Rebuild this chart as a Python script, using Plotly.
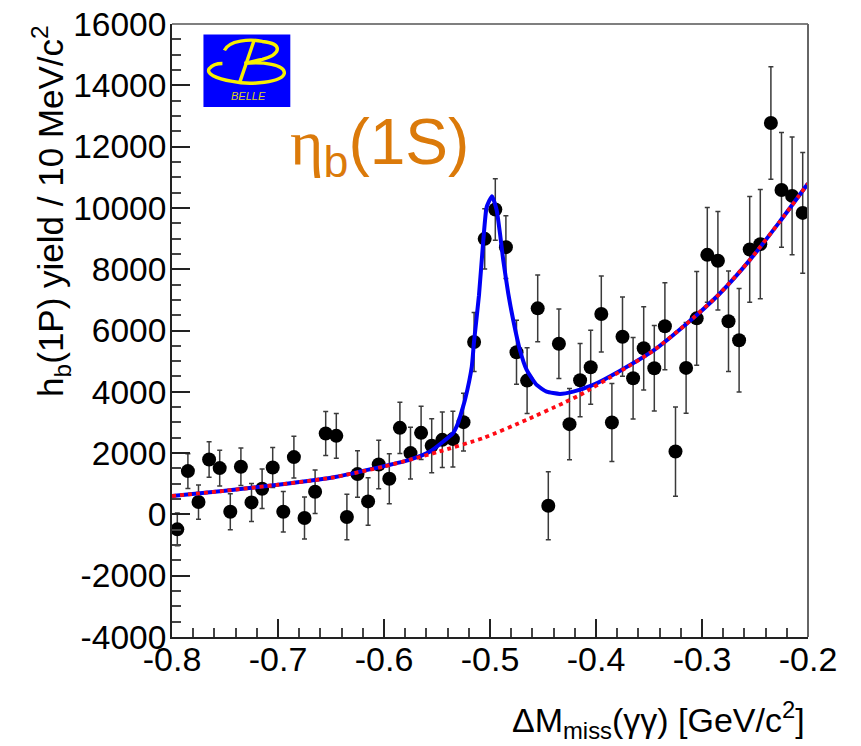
import plotly.graph_objects as go

# ---------- data ----------
bin_centres = [-0.795, -0.785, -0.775, -0.765, -0.755, -0.745, -0.735, -0.725, -0.715, -0.705,
               -0.695, -0.685, -0.675, -0.665, -0.655, -0.645, -0.635, -0.625, -0.615, -0.605,
               -0.595, -0.585, -0.575, -0.565, -0.555, -0.545, -0.535, -0.525, -0.515, -0.505,
               -0.495, -0.485, -0.475, -0.465, -0.455, -0.445, -0.435, -0.425, -0.415, -0.405,
               -0.395, -0.385, -0.375, -0.365, -0.355, -0.345, -0.335, -0.325, -0.315, -0.305,
               -0.295, -0.285, -0.275, -0.265, -0.255, -0.245, -0.235, -0.225, -0.215, -0.205]
yields = [-488, 1413, 403, 1792, 1510, 88, 1554, 391, 837, 1531,
          88, 1869, -118, 739, 2640, 2563, -85, 1315, 424, 1630,
          1163, 2824, 2000, 2661, 2238, 2433, 2456, 3010, 5625, 8990,
          9948, 8720, 5290, 4365, 6723, 283, 5570, 2945, 4377, 4800,
          6537, 2997, 5798, 4443, 5420, 4769, 6137, 2052, 4779, 6397,
          8469, 8274, 6300, 5681, 8645, 8818, 12769, 10586, 10391, 9837]
yield_errors = [537, 565, 560, 577, 586, 586, 612, 619, 642, 651,
                661, 684, 684, 707, 717, 733, 743, 759, 775, 792,
                814, 837, 847, 870, 879, 906, 912, 945, 961, 984,
                1000, 1026, 1042, 1075, 1091, 1107, 1134, 1166, 1195, 1205,
                1238, 1270, 1293, 1329, 1358, 1394, 1417, 1456, 1482, 1531,
                1547, 1606, 1638, 1687, 1726, 1782, 1834, 1873, 1922, 1971]

background_x = [-0.8, -0.75, -0.7, -0.65, -0.6, -0.55, -0.5065, -0.4655, -0.431, -0.415,
                -0.3775, -0.346, -0.3148, -0.2834, -0.255, -0.2268, -0.2]
background_y = [600, 772, 967, 1195, 1560, 2030, 2490, 3085, 3628, 3900,
                4658, 5340, 6210, 7200, 8296, 9544, 10795]

fit_x = [-0.8, -0.75, -0.7, -0.65, -0.6, -0.5754, -0.5565, -0.544, -0.5355, -0.5301, -0.5252,
         -0.5236, -0.5172, -0.5151, -0.5104, -0.5063, -0.5031, -0.4981, -0.4937, -0.4906, -0.4875,
         -0.4828, -0.4781, -0.4718, -0.4654, -0.456, -0.4466, -0.434, -0.4215, -0.4027, -0.3776,
         -0.346, -0.3148, -0.2834, -0.255, -0.2268, -0.2]
fit_y = [600, 772, 967, 1195, 1575, 1790, 2052, 2378, 2620, 2985, 3540,
         3736, 4820, 5625, 7150, 8948, 10033, 10381, 9925, 9170, 8296,
         7212, 6342, 5365, 4713, 4225, 4007, 3932, 4007, 4225, 4680,
         5340, 6210, 7200, 8296, 9544, 10795]

y_ticks = [-4000, -2000, 0, 2000, 4000, 6000, 8000, 10000, 12000, 14000, 16000]
y_labels = ["-4000", "-2000", "0", "2000", "4000", "6000", "8000", "10000", "12000", "14000", "16000"]
x_ticks = [-0.8, -0.7, -0.6, -0.5, -0.4, -0.3, -0.2]
x_labels = ["-0.8", "-0.7", "-0.6", "-0.5", "-0.4", "-0.3", "-0.2"]

# ---------- layout frame (the page body has an 8 px margin) ----------
W, H = 861, 746
BODY = 8
L, R, T, B = 171.5, 808.5, 23.5, 637.5
FONT = "Liberation Sans, Arial, sans-serif"


def px(x):
    return (x - L) / (R - L)


def py(y):
    return (B - y) / (B - T)


def logo_path(cmds):
    """Logo outline given in screen pixels, converted to paper coordinates."""
    out = []
    for c in cmds:
        if isinstance(c, str):
            out.append(c)
        else:
            out.append(f"{px(c[0]):.5f},{py(c[1]):.5f}")
    return " ".join(out)


fig = go.Figure()

fig.add_trace(go.Scatter(
    x=bin_centres, y=yields, mode="markers",
    marker=dict(color="black", size=14),
    error_y=dict(type="data", array=yield_errors, visible=True, color="#3a3a3a", thickness=1.5, width=2.5),
    showlegend=False, cliponaxis=True))
fig.add_trace(go.Scatter(
    x=fit_x, y=fit_y, mode="lines",
    line=dict(color="#0000f5", width=4, shape="spline", smoothing=0.5), showlegend=False))
fig.add_trace(go.Scatter(
    x=background_x, y=background_y, mode="lines",
    line=dict(color="#ff0a14", width=3.8, dash="4px,4px", shape="spline", smoothing=0.5), showlegend=False))

shapes = [
    dict(type="line", xref="paper", yref="paper", x0=0, x1=1, y0=1, y1=1,
         line=dict(color="#555555", width=1.5)),
    dict(type="line", xref="paper", yref="paper", x0=1, x1=1, y0=0, y1=1,
         line=dict(color="#666666", width=2)),
    dict(type="rect", xref="paper", yref="paper", x0=px(203), x1=px(290), y0=py(106.7), y1=py(34),
         fillcolor="#0000ff", line=dict(width=0), layer="above"),
]
yellow = dict(color="#f8f000", width=3.4)
shapes.append(dict(type="path", xref="paper", yref="paper", layer="above", line=yellow, path=logo_path([
    "M", (224, 50), "C", (228, 40), (250, 38), (262, 41), "C", (282, 43), (282, 53), (262, 59),
    "C", (252, 61), (248, 62), (244, 63), "C", (262, 61), (285, 64), (284, 73),
    "C", (282, 82), (250, 85), (232, 81), "C", (215, 78), (205, 73), (209, 68), "C", (212, 64), (218, 63), (222, 63)])))
shapes.append(dict(type="path", xref="paper", yref="paper", layer="above", line=yellow, path=logo_path([
    "M", (254, 39), "L", (239, 83)])))

annotations = [
    dict(text="<i>BELLE</i>", xref="paper", yref="paper", x=px(248), y=py(96), showarrow=False,
         font=dict(family=FONT, size=11, color="#d8d020"), xanchor="center", yanchor="middle"),
    dict(text='<span style="font-family:Liberation Serif">η</span><sub>b</sub>(1S)',
         xref="paper", yref="paper", x=px(288), y=py(146), showarrow=False,
         font=dict(family=FONT, size=64, color="#db7a0a"), xanchor="left", yanchor="middle"),
    dict(text="h<sub>b</sub>(1P) yield / 10 MeV/c<sup>2</sup>",
         xref="paper", yref="paper", x=px(50), y=py(211), showarrow=False, textangle=-90,
         font=dict(family=FONT, size=35, color="black"), xanchor="center", yanchor="middle"),
    dict(text="ΔM<sub>miss</sub>(γγ) [GeV/c<sup>2</sup>]",
         xref="paper", yref="paper", x=px(807), y=py(721), showarrow=False,
         font=dict(family=FONT, size=34, color="black"), xanchor="right", yanchor="middle"),
]

fig.update_layout(
    width=W - 2 * BODY, height=H - BODY, autosize=False,
    margin=dict(l=L - BODY, r=W - BODY - R, t=T - BODY, b=H - B, pad=0, autoexpand=False),
    plot_bgcolor="white", paper_bgcolor="white",
    shapes=shapes, annotations=annotations,
    font=dict(family=FONT, color="black"),
    xaxis=dict(
        range=[-0.8, -0.2], tickmode="array", tickvals=x_ticks, ticktext=x_labels, automargin=False,
        ticks="inside", ticklen=18, tickwidth=1.5, tickcolor="#222222", ticklabelstandoff=-9,
        ticklabeloverflow="allow",
        minor=dict(dtick=0.02, tick0=-0.8, ticks="inside", ticklen=9, tickwidth=1.5, tickcolor="#444444", showgrid=False),
        showgrid=False, zeroline=False, showline=True, linecolor="#222222", linewidth=2,
        tickfont=dict(family=FONT, size=34, color="black")),
    yaxis=dict(
        range=[-4000, 16000], tickmode="array", tickvals=y_ticks, ticktext=y_labels, automargin=False,
        ticks="inside", ticklen=18, tickwidth=1.5, tickcolor="#222222", ticklabelstandoff=-3,
        ticklabeloverflow="allow",
        minor=dict(dtick=500, tick0=-4000, ticks="inside", ticklen=9, tickwidth=1.5, tickcolor="#444444", showgrid=False),
        showgrid=False, zeroline=False, showline=True, linecolor="#222222", linewidth=2,
        tickfont=dict(family=FONT, size=33.5, color="black")),
)

fig.write_html("out.html")
